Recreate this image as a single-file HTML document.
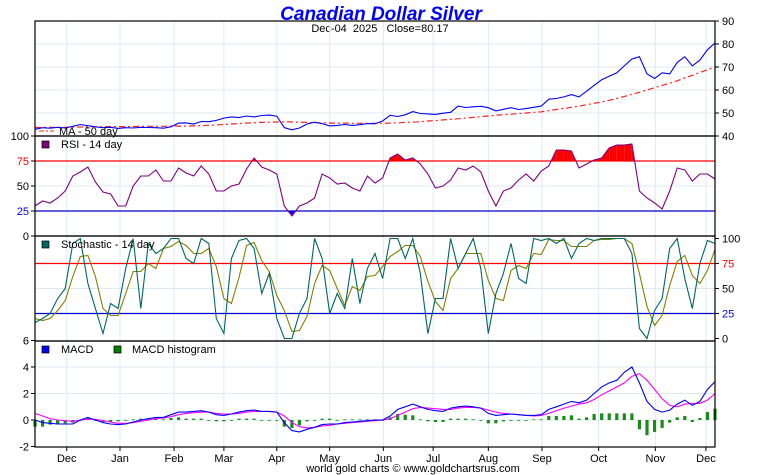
<!DOCTYPE html>
<html><head><meta charset="utf-8"><style>
body{margin:0;background:#fff;}
svg{display:block;font-family:"Liberation Sans",sans-serif;}
</style></head><body>
<svg id="c" width="760" height="475" viewBox="0 0 760 475">
<text x="381" y="20" text-anchor="middle" font-size="19" font-weight="bold" font-style="italic" fill="#0000ff">Canadian Dollar Silver</text>
<text x="380" y="32" text-anchor="middle" font-size="11" fill="#000" xml:space="preserve">Dec-04  2025   Close=80.17</text>
<text x="413" y="472" text-anchor="middle" font-size="11" fill="#000">world gold charts © www.goldchartsrus.com</text>
<g id="g"></g>
</svg>
<script>
const months = ["Dec","Jan","Feb","Mar","Apr","May","Jun","Jul","Aug","Sep","Oct","Nov","Dec"];
const monthIdx = [4.2,11.25,18.4,25.0,32.0,39.0,46.1,52.7,60.0,67.1,74.6,82.1,88.8];
const price = [42.9,43.6,43.4,43.8,43.5,44.2,45.0,44.5,44.0,43.6,43.8,43.3,43.6,43.5,43.8,43.7,43.6,43.4,44.0,45.6,45.7,45.2,46.3,46.2,46.8,47.8,48.3,48.0,48.7,48.3,48.9,49.1,48.6,43.6,42.7,43.5,45.2,46.0,45.4,44.4,44.6,45.0,44.6,44.9,45.4,45.3,46.5,49.0,48.5,49.2,50.6,49.8,49.6,49.4,49.9,50.3,53.0,52.4,52.7,52.9,52.3,50.9,51.6,52.3,51.5,51.9,52.5,53.0,56.0,56.3,57.0,58.0,57.0,59.5,62.0,64.5,66.0,67.5,70.5,73.5,74.5,67.0,65.0,67.5,67.0,72.0,74.5,70.5,73.0,77.5,80.5];
const ma50 = [43.7,43.7,43.8,43.8,43.8,43.9,43.9,44.0,44.0,44.0,44.1,44.1,44.1,44.1,44.2,44.2,44.2,44.2,44.3,44.3,44.3,44.4,44.5,44.7,44.8,45.0,45.2,45.4,45.6,45.8,45.9,46.0,46.1,46.2,46.1,46.0,45.9,45.8,45.7,45.6,45.6,45.6,45.5,45.5,45.5,45.5,45.5,45.6,45.7,45.9,46.0,46.2,46.5,46.7,47.0,47.2,47.5,47.8,48.1,48.4,48.7,49.0,49.3,49.5,49.8,50.0,50.3,50.5,51.0,51.5,52.0,52.5,53.0,53.6,54.2,54.8,55.5,56.3,57.2,58.1,59.0,60.0,61.0,62.0,63.0,64.0,65.2,66.4,67.6,68.8,70.0];
const rsi = [30,35,33,38,45,60,64,69,54,44,42,30,30,50,60,60,66,55,55,68,63,60,70,62,45,45,50,52,67,78,69,66,62,30,20,30,33,38,62,58,52,53,48,45,60,53,58,78,82,76,78,72,62,48,50,56,68,66,70,64,45,30,45,48,56,62,55,65,70,86,86,85,68,72,76,78,88,91,91,92,45,38,33,27,45,68,66,55,62,62,57];
const stochK = [16,20,25,40,50,95,100,55,30,5,35,30,70,100,30,95,85,90,100,100,80,75,100,95,20,5,80,98,100,90,45,65,20,0,0,25,40,100,80,25,45,30,80,35,70,85,60,100,100,80,100,65,5,40,40,100,70,85,100,70,5,45,65,95,60,55,100,98,100,95,100,80,95,100,98,100,100,100,100,85,10,0,28,40,90,100,60,30,75,98,95];
const stochD = [20,18,20,28,38,62,82,83,62,30,23,23,45,67,67,75,70,90,92,97,93,85,85,90,72,40,35,61,93,96,78,67,43,28,7,8,22,55,73,68,50,33,52,48,62,63,72,82,87,93,93,82,57,37,28,60,70,85,85,85,58,40,38,68,73,70,85,84,99,98,98,92,92,92,98,99,99,100,100,95,65,32,13,23,53,77,83,63,55,68,89];
const macd = [0.0,-0.2,-0.25,-0.3,-0.3,-0.3,0.0,0.2,0.0,-0.2,-0.3,-0.35,-0.3,-0.15,0.0,0.1,0.2,0.2,0.4,0.6,0.6,0.65,0.7,0.6,0.4,0.35,0.45,0.6,0.7,0.75,0.65,0.65,0.6,-0.2,-0.8,-0.9,-0.7,-0.55,-0.35,-0.3,-0.3,-0.2,-0.15,-0.1,-0.05,0.0,0.0,0.3,0.8,1.0,1.2,1.0,0.8,0.7,0.65,0.9,1.0,1.05,1.0,0.9,0.5,0.35,0.4,0.45,0.4,0.35,0.35,0.4,0.8,1.0,1.2,1.4,1.3,1.5,2.0,2.5,2.8,3.0,3.6,4.0,2.8,1.4,0.8,0.6,0.75,1.2,1.5,1.1,1.4,2.3,2.9];
const macdSignal = [0.5,0.3,0.1,0.0,-0.05,-0.1,0.0,0.05,0.05,-0.05,-0.15,-0.25,-0.25,-0.2,-0.1,0.0,0.1,0.15,0.25,0.4,0.5,0.55,0.6,0.6,0.5,0.45,0.45,0.5,0.6,0.65,0.65,0.65,0.6,0.3,-0.2,-0.5,-0.6,-0.55,-0.45,-0.4,-0.3,-0.25,-0.2,-0.15,-0.1,-0.05,0.0,0.1,0.35,0.6,0.85,0.95,0.9,0.85,0.8,0.8,0.9,0.95,0.95,0.9,0.75,0.6,0.5,0.45,0.4,0.35,0.3,0.35,0.5,0.7,0.9,1.05,1.2,1.3,1.55,1.9,2.2,2.5,2.8,3.3,3.5,3.0,2.3,1.6,1.1,1.0,1.2,1.25,1.25,1.5,2.0];
const macdHist = [-0.5,-0.5,-0.35,-0.3,-0.25,-0.2,0.0,0.15,0.0,-0.15,-0.15,-0.1,-0.05,0.05,0.1,0.1,0.1,0.05,0.15,0.2,0.1,0.1,0.1,0.0,-0.1,-0.1,0.0,0.1,0.1,0.1,0.0,0.0,0.0,-0.5,-0.6,-0.4,-0.1,0.0,0.1,0.1,0.0,0.05,0.05,0.05,0.05,0.05,0.0,0.2,0.45,0.4,0.35,0.05,-0.1,-0.15,-0.15,0.1,0.1,0.1,0.05,0.0,-0.25,-0.25,-0.1,0.0,0.0,0.0,0.05,0.05,0.3,0.3,0.3,0.35,0.1,0.2,0.45,0.5,0.5,0.5,0.5,0.5,-0.7,-1.15,-0.9,-0.6,-0.2,0.2,0.3,-0.15,0.15,0.6,0.85];
const priceTicks = [40,50,60,70,80,90];
const rsiTicks = [0,25,50,75,100];
const stochTicks = [0,25,50,75,100];
const macdTicks = [-2,0,2,4,6];

const NS="http://www.w3.org/2000/svg", G=document.getElementById('g');
const L=35,R=715,N=price.length;
const X=i=>L+i*(R-L)/(N-1);
const yP=v=>136-(v-40)*2.3;
const yR=v=>236-v;
const yS=v=>338.5-v;
const yM=v=>420-v*13.25;
function el(t,a,txt){const e=document.createElementNS(NS,t);for(const k in a)e.setAttribute(k,a[k]);if(txt!==undefined)e.textContent=txt;G.appendChild(e);return e;}
function pts(arr,fy){return arr.map((v,i)=>X(i).toFixed(1)+','+fy(v).toFixed(1)).join(' ');}

const panels=[[21,136],[136,236],[236,341],[341,447]];
monthIdx.forEach((m,k)=>{const x=X(m);
 panels.forEach(p=>{const e=el('line',{x1:x,x2:x,y1:p[0],y2:p[1],stroke:'#dbeaf5','stroke-width':1});
 
 });
 el('line',{x1:x,x2:x,y1:447,y2:451,stroke:'#000'});
 const t=el('text',{x:x,y:462,'text-anchor':'middle','font-size':11},months[k]);
 
 
});
function hgrid(y){const e=el('line',{x1:L,x2:R,y1:y,y2:y,stroke:'#dbeaf5'});}
[50,60,70,80].forEach(v=>hgrid(yP(v)));
hgrid(yR(50));hgrid(yS(50));[0,2,4].forEach(v=>hgrid(yM(v)));

priceTicks.forEach(v=>{const y=yP(v);el('line',{x1:R,x2:R+4,y1:y,y2:y,stroke:'#000'});
 const t=el('text',{x:R+7,y:y+4,'font-size':11},v);
 
 });
rsiTicks.forEach(v=>{const y=yR(v);el('line',{x1:L-4,x2:L,y1:y,y2:y,stroke:'#000'});
 const t=el('text',{x:L-6,y:y+4,'font-size':11,'text-anchor':'end',fill:v==75?'#ff0000':v==25?'#0000ff':'#000'},v);
 
 });
stochTicks.forEach(v=>{const y=yS(v);el('line',{x1:R,x2:R+4,y1:y,y2:y,stroke:'#000'});
 const t=el('text',{x:R+7,y:y+4,'font-size':11,fill:v==75?'#ff0000':v==25?'#0000ff':'#000'},v);
 
 });
macdTicks.forEach(v=>{const y=yM(v);el('line',{x1:L-4,x2:L,y1:y,y2:y,stroke:'#000'});
 const t=el('text',{x:L-6,y:y+4,'font-size':11,'text-anchor':'end'},v);
 
 });

let e=el('polyline',{points:pts(ma50,yP),fill:'none',stroke:'#ff2020','stroke-width':1.2,'stroke-dasharray':'6,3,2,3'});


e=el('polyline',{points:pts(price,yP),fill:'none',stroke:'#0000ff','stroke-width':1.1});



function fillBand(arr,fy,lvl,above,color,name){
 for(let i=0;i<arr.length-1;i++){const a=arr[i],b=arr[i+1];
  const ca=above?a>lvl:a<lvl, cb=above?b>lvl:b<lvl; if(!ca&&!cb)continue;
  let x0=X(i),x1=X(i+1),v0=a,v1=b;
  if(!ca){x0=X(i)+(lvl-a)/(b-a)*(X(i+1)-X(i));v0=lvl;}
  if(!cb){x1=X(i)+(lvl-a)/(b-a)*(X(i+1)-X(i));v1=lvl;}
  const p=el('polygon',{points:`${x0},${fy(lvl)} ${x0},${fy(v0)} ${x1},${fy(v1)} ${x1},${fy(lvl)}`,fill:color});
  
  }
}
fillBand(rsi,yR,75,true,'#ff0000','rsi-overbought-fill');
fillBand(rsi,yR,25,false,'#0000ff','rsi-oversold-fill');
el('line',{x1:L,x2:R,y1:yR(75),y2:yR(75),stroke:'#ff0000','stroke-width':1.2});
el('line',{x1:L,x2:R,y1:yR(25),y2:yR(25),stroke:'#0000cc','stroke-width':1.2});
e=el('polyline',{points:pts(rsi,yR),fill:'none',stroke:'#800080','stroke-width':1.1});



el('line',{x1:L,x2:R,y1:yS(75),y2:yS(75),stroke:'#ff0000','stroke-width':1.2});
el('line',{x1:L,x2:R,y1:yS(25),y2:yS(25),stroke:'#0000cc','stroke-width':1.2});
e=el('polyline',{points:pts(stochD,yS),fill:'none',stroke:'#808000','stroke-width':1.1});


e=el('polyline',{points:pts(stochK,yS),fill:'none',stroke:'#006666','stroke-width':1.1});



macdHist.forEach((v,i)=>{const y0=yM(0),y1=yM(v);
 const b=el('rect',{x:X(i)-1.6,y:Math.min(y0,y1),width:3.2,height:Math.max(0.8,Math.abs(y1-y0)),fill:'#1a8a1a'});
 
 });
e=el('polyline',{points:pts(macdSignal,yM),fill:'none',stroke:'#ff00ff','stroke-width':1.1});


e=el('polyline',{points:pts(macd,yM),fill:'none',stroke:'#0000ff','stroke-width':1.1});



panels.forEach(p=>{const f=el('rect',{x:L,y:p[0],width:R-L,height:p[1]-p[0],fill:'none',stroke:'#000','stroke-width':1.2});
 
 });

el('line',{x1:39,x2:54,y1:131,y2:131,stroke:'#ff2020','stroke-dasharray':'5,2,2,2'});
e=el('text',{x:59,y:135,'font-size':11},'MA - 50 day');
el('rect',{x:42,y:141,width:7,height:7,fill:'#800080',stroke:'#000','stroke-width':0.7});
e=el('text',{x:61,y:148,'font-size':11},'RSI - 14 day');
el('rect',{x:42,y:241,width:7,height:7,fill:'#006666',stroke:'#000','stroke-width':0.7});
e=el('text',{x:61,y:248,'font-size':11},'Stochastic - 14 day');
el('rect',{x:42,y:346,width:7,height:7,fill:'#0000ff',stroke:'#000','stroke-width':0.7});
e=el('text',{x:61,y:353,'font-size':11},'MACD');
el('rect',{x:114,y:346,width:7,height:7,fill:'#008000',stroke:'#000','stroke-width':0.7});
e=el('text',{x:132,y:353,'font-size':11},'MACD histogram');
</script>
</body></html>
